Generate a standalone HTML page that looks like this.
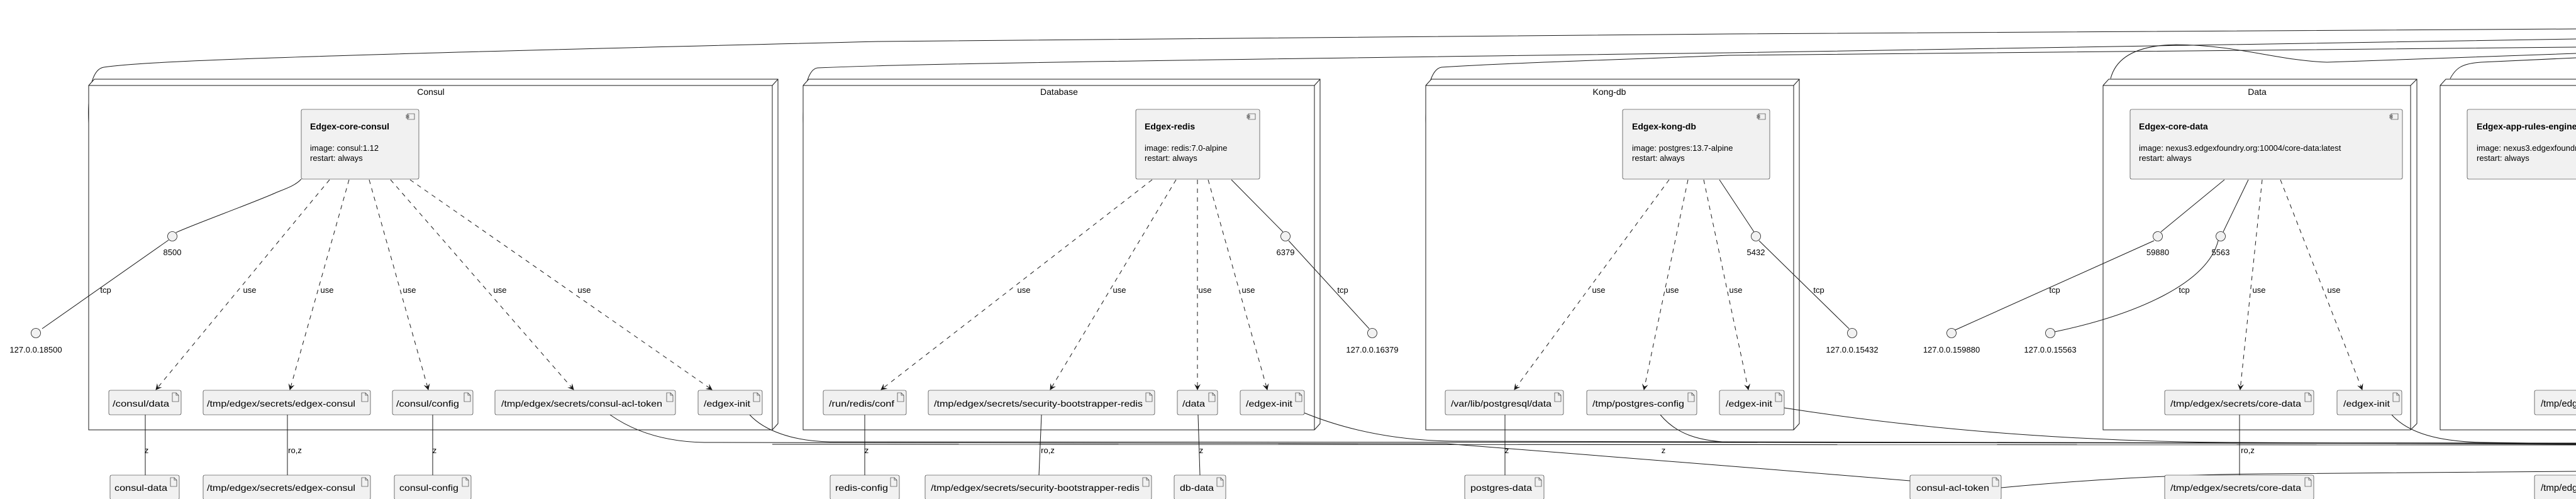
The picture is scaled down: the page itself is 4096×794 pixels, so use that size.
<!DOCTYPE html>
<html><head><meta charset="utf-8"><style>
html,body{margin:0;padding:0;background:#fff;overflow:hidden;width:4096px;height:794px}
svg{display:block}
text{font-family:"Liberation Sans",sans-serif;fill:#000}
.lbl{font-size:13px}
.art rect{fill:#F1F1F1;stroke:#181818;stroke-width:0.6}
.ic{fill:none;stroke:#181818;stroke-width:0.6}
.ln{fill:none;stroke:#181818;stroke-width:1}
.ds{fill:none;stroke:#181818;stroke-width:1;stroke-dasharray:7,7}
.fr{fill:#fff;stroke:#181818;stroke-width:1}
.cp{fill:#F1F1F1;stroke:#181818;stroke-width:0.6}
.pt{fill:#F1F1F1;stroke:#181818;stroke-width:0.8}
</style></head><body>
<svg width="4096" height="794" viewBox="0 0 4096 794" xmlns="http://www.w3.org/2000/svg">
<defs>
<marker id="ar" markerWidth="10" markerHeight="10" refX="9" refY="5" orient="auto" markerUnits="userSpaceOnUse">
<path d="M0,0 L10,5 L0,10 L4,5 Z" fill="#181818"/>
</marker>
</defs>

<!-- top long lines -->
<path class="ln" d="M141,196 C139,150 145,110 165,107 C230,98 400,90 1400,66 L2750,54 L4096,46"/>
<path class="ln" d="M1277,196 C1276,150 1283,110 1300,108 C1400,104 1500,100 2750,84 L4096,62"/>
<path class="ln" d="M2267,196 C2266,150 2274,110 2292,107 C2400,100 2600,94 2750,88 L4096,75"/>
<path class="ln" d="M3356,125 C3365,90 3400,72 3460,71 C3560,72 3620,96 3700,99 L4096,85"/>
<path class="ln" d="M3896,125 C3905,108 3915,101 3945,99 L4096,92"/>

<!-- frames -->
<g>
<path class="fr" d="M141,136 L150,126 L1237,126 L1237,674 L1228,684 L141,684 Z"/>
<path class="ln" d="M141,136 L1228,136 L1237,126 M1228,136 L1228,684"/>
<text x="685" y="151" font-size="14" text-anchor="middle">Consul</text>

<path class="fr" d="M1277,136 L1286,126 L2099,126 L2099,674 L2090,684 L1277,684 Z"/>
<path class="ln" d="M1277,136 L2090,136 L2099,126 M2090,136 L2090,684"/>
<text x="1684" y="151" font-size="14" text-anchor="middle">Database</text>

<path class="fr" d="M2267,136 L2276,126 L2861,126 L2861,674 L2852,684 L2267,684 Z"/>
<path class="ln" d="M2267,136 L2852,136 L2861,126 M2852,136 L2852,684"/>
<text x="2559" y="151" font-size="14" text-anchor="middle">Kong-db</text>

<path class="fr" d="M3344,136 L3353,126 L3843,126 L3843,674 L3833,684 L3344,684 Z"/>
<path class="ln" d="M3344,136 L3833,136 L3843,126 M3833,136 L3833,684"/>
<text x="3589" y="151" font-size="14" text-anchor="middle">Data</text>

<path class="fr" d="M3880,136 L3889,126 L4300,126 L4300,684 L3880,684 Z"/>
<path class="ln" d="M3880,136 L4300,136"/>
</g>

<!-- components -->
<g>
<rect class="cp" x="479" y="174" width="187" height="111" rx="2.5"/>
<path class="ic" d="M648,181 h11 v9 h-11 z M646,183 h4 v2 h-4 z M646,186 h4 v2 h-4 z"/>
<text x="493" y="206" font-size="14" font-weight="bold">Edgex-core-consul</text>
<text x="493" y="240" font-size="13">image: consul:1.12</text>
<text x="493" y="256" font-size="13">restart: always</text>

<rect class="cp" x="1806" y="174" width="197" height="111" rx="2.5"/>
<path class="ic" d="M1985,181 h11 v9 h-11 z M1983,183 h4 v2 h-4 z M1983,186 h4 v2 h-4 z"/>
<text x="1820" y="206" font-size="14" font-weight="bold">Edgex-redis</text>
<text x="1820" y="240" font-size="13">image: redis:7.0-alpine</text>
<text x="1820" y="256" font-size="13">restart: always</text>

<rect class="cp" x="2580" y="174" width="234" height="111" rx="2.5"/>
<path class="ic" d="M2796,181 h11 v9 h-11 z M2794,183 h4 v2 h-4 z M2794,186 h4 v2 h-4 z"/>
<text x="2595" y="206" font-size="14" font-weight="bold">Edgex-kong-db</text>
<text x="2595" y="240" font-size="13">image: postgres:13.7-alpine</text>
<text x="2595" y="256" font-size="13">restart: always</text>

<rect class="cp" x="3387" y="174" width="433" height="111" rx="2.5"/>
<path class="ic" d="M3802,181 h11 v9 h-11 z M3800,183 h4 v2 h-4 z M3800,186 h4 v2 h-4 z"/>
<text x="3401" y="206" font-size="14" font-weight="bold">Edgex-core-data</text>
<text x="3401" y="240" font-size="13">image: nexus3.edgexfoundry.org:10004/core-data:latest</text>
<text x="3401" y="256" font-size="13">restart: always</text>

<rect class="cp" x="3923" y="174" width="400" height="111" rx="2.5"/>
<text x="3938" y="206" font-size="14" font-weight="bold">Edgex-app-rules-engine</text>
<text x="3938" y="240" font-size="13">image: nexus3.edgexfoundry.org</text>
<text x="3938" y="256" font-size="13">restart: always</text>
</g>

<!-- ports and tcp links -->
<g>
<path class="ln" d="M479,285 C470,295 455,300 440,306 C410,320 300,360 280,370"/>
<path class="ln" d="M268,382 L67,523"/>
<circle class="pt" cx="274" cy="376" r="7.5"/><circle class="pt" cx="57" cy="530" r="7.5"/>
<text class="lbl" x="274" y="406" text-anchor="middle">8500</text>
<text class="lbl" x="57" y="561" text-anchor="middle">127.0.0.18500</text>
<text class="lbl" x="168" y="466" text-anchor="middle">tcp</text>

<path class="ln" d="M1958,286 L2040,369 M2049,383 L2177,523"/>
<circle class="pt" cx="2044" cy="376" r="7.5"/><circle class="pt" cx="2182" cy="530" r="7.5"/>
<text class="lbl" x="2044" y="406" text-anchor="middle">6379</text>
<text class="lbl" x="2182" y="561" text-anchor="middle">127.0.0.16379</text>
<text class="lbl" x="2135" y="466" text-anchor="middle">tcp</text>

<path class="ln" d="M2734,286 L2789,369 M2797,383 L2940,523"/>
<circle class="pt" cx="2792" cy="376" r="7.5"/><circle class="pt" cx="2945" cy="530" r="7.5"/>
<text class="lbl" x="2792" y="406" text-anchor="middle">5432</text>
<text class="lbl" x="2945" y="561" text-anchor="middle">127.0.0.15432</text>
<text class="lbl" x="2892" y="466" text-anchor="middle">tcp</text>

<path class="ln" d="M3537,286 L3436,369 M3425,383 L3109,525"/>
<path class="ln" d="M3575,286 L3535,369 M3527,383 C3510,450 3400,500 3267,528"/>
<circle class="pt" cx="3431" cy="376" r="7.5"/><circle class="pt" cx="3531" cy="376" r="7.5"/>
<circle class="pt" cx="3103" cy="530" r="7.5"/><circle class="pt" cx="3260" cy="530" r="7.5"/>
<text class="lbl" x="3431" y="406" text-anchor="middle">59880</text>
<text class="lbl" x="3531" y="406" text-anchor="middle">5563</text>
<text class="lbl" x="3103" y="561" text-anchor="middle">127.0.0.159880</text>
<text class="lbl" x="3260" y="561" text-anchor="middle">127.0.0.15563</text>
<text class="lbl" x="3267" y="466" text-anchor="middle">tcp</text>
<text class="lbl" x="3473" y="466" text-anchor="middle">tcp</text>
</g>

<!-- dashed use arrows -->
<g>
<path class="ds" marker-end="url(#ar)" d="M524,286 L248,620"/>
<path class="ds" marker-end="url(#ar)" d="M555,286 L461,620"/>
<path class="ds" marker-end="url(#ar)" d="M587,286 L681,620"/>
<path class="ds" marker-end="url(#ar)" d="M621,286 L912,620"/>
<path class="ds" marker-end="url(#ar)" d="M652,286 L1132,620"/>
<path class="ds" marker-end="url(#ar)" d="M1832,286 L1401,620"/>
<path class="ds" marker-end="url(#ar)" d="M1870,286 L1670,620"/>
<path class="ds" marker-end="url(#ar)" d="M1904,286 L1904,620"/>
<path class="ds" marker-end="url(#ar)" d="M1921,286 L2015,620"/>
<path class="ds" marker-end="url(#ar)" d="M2654,286 L2408,620"/>
<path class="ds" marker-end="url(#ar)" d="M2684,286 L2614,620"/>
<path class="ds" marker-end="url(#ar)" d="M2709,286 L2780,620"/>
<path class="ds" marker-end="url(#ar)" d="M3597,286 L3562,620"/>
<path class="ds" marker-end="url(#ar)" d="M3626,286 L3756,620"/>
<g class="lbl" text-anchor="middle">
<text x="397" y="466">use</text><text x="520" y="466">use</text><text x="651" y="466">use</text>
<text x="795" y="466">use</text><text x="929" y="466">use</text>
<text x="1628" y="466">use</text><text x="1780" y="466">use</text><text x="1916" y="466">use</text><text x="1985" y="466">use</text>
<text x="2542" y="466">use</text><text x="2659" y="466">use</text><text x="2760" y="466">use</text>
<text x="3592" y="466">use</text><text x="3711" y="466">use</text>
</g>
</g>

<!-- bottom links -->
<g>
<path class="ln" d="M231,660 L231,756 M457,660 L457,756 M688,660 L688,756 M1375,660 L1375,756 M1656,660 L1652,756 M1905,660 L1908,756 M2393,660 L2393,756 M3561,660 L3561,756"/>
<g class="lbl" text-anchor="middle">
<text x="233" y="721">z</text><text x="469" y="721">ro,z</text><text x="691" y="721">z</text>
<text x="1378" y="721">z</text><text x="1666" y="721">ro,z</text><text x="1910" y="721">z</text>
<text x="2396" y="721">z</text><text x="2645" y="721">z</text><text x="3574" y="721">ro,z</text>
</g>
<path class="ln" d="M970,660 C1010,688 1060,703 1120,704 L2300,706 C2500,722 2800,745 3037,765"/>
<path class="ln" d="M3182,776 C3300,765 3450,755 3600,754 L4096,750"/>
<path class="ln" d="M1192,660 C1215,685 1260,702 1320,703 L4096,705"/>
<path class="ln" d="M2074,657 C2150,688 2230,701 2310,702 L4096,706"/>
<path class="ln" d="M2640,660 C2665,690 2700,703 2760,704 L4096,706"/>
<path class="ln" d="M2837,649 C3100,690 3350,703 3548,704 L4096,707"/>
<path class="ln" d="M3803,660 C3830,690 3880,703 3950,704 L4096,706"/>
<path class="ln" d="M1228,707 L4096,708"/>
</g>

<!-- artifacts -->
<g class="art" font-size="14">
<g><rect x="173" y="621" width="115" height="39" rx="2.5"/><path class="ic" d="M274,625 h6 l4,4 v10 h-10 z M280,625 v4 h4"/><text x="179" y="647" textLength="90" lengthAdjust="spacingAndGlyphs">/consul/data</text></g>
<g><rect x="323" y="621" width="266" height="39" rx="2.5"/><path class="ic" d="M575,625 h6 l4,4 v10 h-10 z M581,625 v4 h4"/><text x="329" y="647" textLength="236" lengthAdjust="spacingAndGlyphs">/tmp/edgex/secrets/edgex-consul</text></g>
<g><rect x="624" y="621" width="128" height="39" rx="2.5"/><path class="ic" d="M738,625 h6 l4,4 v10 h-10 z M744,625 v4 h4"/><text x="630" y="647" textLength="100" lengthAdjust="spacingAndGlyphs">/consul/config</text></g>
<g><rect x="787" y="621" width="287" height="39" rx="2.5"/><path class="ic" d="M1060,625 h6 l4,4 v10 h-10 z M1066,625 v4 h4"/><text x="797" y="647" textLength="256" lengthAdjust="spacingAndGlyphs">/tmp/edgex/secrets/consul-acl-token</text></g>
<g><rect x="1110" y="621" width="102" height="39" rx="2.5"/><path class="ic" d="M1198,625 h6 l4,4 v10 h-10 z M1204,625 v4 h4"/><text x="1119" y="647" textLength="74" lengthAdjust="spacingAndGlyphs">/edgex-init</text></g>
<g><rect x="1309" y="621" width="132" height="39" rx="2.5"/><path class="ic" d="M1427,625 h6 l4,4 v10 h-10 z M1433,625 v4 h4"/><text x="1318" y="647" textLength="104" lengthAdjust="spacingAndGlyphs">/run/redis/conf</text></g>
<g><rect x="1476" y="621" width="360" height="39" rx="2.5"/><path class="ic" d="M1822,625 h6 l4,4 v10 h-10 z M1828,625 v4 h4"/><text x="1485" y="647" textLength="332" lengthAdjust="spacingAndGlyphs">/tmp/edgex/secrets/security-bootstrapper-redis</text></g>
<g><rect x="1872" y="621" width="64" height="39" rx="2.5"/><path class="ic" d="M1922,625 h6 l4,4 v10 h-10 z M1928,625 v4 h4"/><text x="1880" y="647" textLength="36" lengthAdjust="spacingAndGlyphs">/data</text></g>
<g><rect x="1972" y="621" width="102" height="39" rx="2.5"/><path class="ic" d="M2060,625 h6 l4,4 v10 h-10 z M2066,625 v4 h4"/><text x="1981" y="647" textLength="74" lengthAdjust="spacingAndGlyphs">/edgex-init</text></g>
<g><rect x="2298" y="621" width="188" height="39" rx="2.5"/><path class="ic" d="M2472,625 h6 l4,4 v10 h-10 z M2478,625 v4 h4"/><text x="2307" y="647" textLength="160" lengthAdjust="spacingAndGlyphs">/var/lib/postgresql/data</text></g>
<g><rect x="2523" y="621" width="175" height="39" rx="2.5"/><path class="ic" d="M2684,625 h6 l4,4 v10 h-10 z M2690,625 v4 h4"/><text x="2532" y="647" textLength="146" lengthAdjust="spacingAndGlyphs">/tmp/postgres-config</text></g>
<g><rect x="2734" y="621" width="103" height="39" rx="2.5"/><path class="ic" d="M2823,625 h6 l4,4 v10 h-10 z M2829,625 v4 h4"/><text x="2744" y="647" textLength="74" lengthAdjust="spacingAndGlyphs">/edgex-init</text></g>
<g><rect x="3442" y="621" width="237" height="39" rx="2.5"/><path class="ic" d="M3665,625 h6 l4,4 v10 h-10 z M3671,625 v4 h4"/><text x="3451" y="647" textLength="208" lengthAdjust="spacingAndGlyphs">/tmp/edgex/secrets/core-data</text></g>
<g><rect x="3716" y="621" width="103" height="39" rx="2.5"/><path class="ic" d="M3805,625 h6 l4,4 v10 h-10 z M3811,625 v4 h4"/><text x="3726" y="647" textLength="74" lengthAdjust="spacingAndGlyphs">/edgex-init</text></g>
<g><rect x="4030" y="621" width="300" height="39" rx="2.5"/><text x="4040" y="647" font-size="15">/tmp/edgex/secrets/app-rules-engine</text></g>

<g><rect x="175" y="756" width="110" height="39" rx="2.5"/><path class="ic" d="M271,760 h6 l4,4 v10 h-10 z M277,760 v4 h4"/><text x="182" y="781" textLength="84" lengthAdjust="spacingAndGlyphs">consul-data</text></g>
<g><rect x="323" y="756" width="266" height="39" rx="2.5"/><path class="ic" d="M575,760 h6 l4,4 v10 h-10 z M581,760 v4 h4"/><text x="329" y="781" textLength="236" lengthAdjust="spacingAndGlyphs">/tmp/edgex/secrets/edgex-consul</text></g>
<g><rect x="627" y="756" width="122" height="39" rx="2.5"/><path class="ic" d="M735,760 h6 l4,4 v10 h-10 z M741,760 v4 h4"/><text x="635" y="781" textLength="94" lengthAdjust="spacingAndGlyphs">consul-config</text></g>
<g><rect x="1320" y="756" width="110" height="39" rx="2.5"/><path class="ic" d="M1416,760 h6 l4,4 v10 h-10 z M1422,760 v4 h4"/><text x="1328" y="781" textLength="84" lengthAdjust="spacingAndGlyphs">redis-config</text></g>
<g><rect x="1471" y="756" width="360" height="39" rx="2.5"/><path class="ic" d="M1817,760 h6 l4,4 v10 h-10 z M1823,760 v4 h4"/><text x="1480" y="781" textLength="332" lengthAdjust="spacingAndGlyphs">/tmp/edgex/secrets/security-bootstrapper-redis</text></g>
<g><rect x="1867" y="756" width="82" height="39" rx="2.5"/><path class="ic" d="M1935,760 h6 l4,4 v10 h-10 z M1941,760 v4 h4"/><text x="1876" y="781" textLength="54" lengthAdjust="spacingAndGlyphs">db-data</text></g>
<g><rect x="2329" y="756" width="126" height="39" rx="2.5"/><path class="ic" d="M2441,760 h6 l4,4 v10 h-10 z M2447,760 v4 h4"/><text x="2338" y="781" textLength="98" lengthAdjust="spacingAndGlyphs">postgres-data</text></g>
<g><rect x="3037" y="756" width="145" height="39" rx="2.5"/><path class="ic" d="M3168,760 h6 l4,4 v10 h-10 z M3174,760 v4 h4"/><text x="3047" y="781" textLength="116" lengthAdjust="spacingAndGlyphs">consul-acl-token</text></g>
<g><rect x="3442" y="756" width="237" height="39" rx="2.5"/><path class="ic" d="M3665,760 h6 l4,4 v10 h-10 z M3671,760 v4 h4"/><text x="3451" y="781" textLength="208" lengthAdjust="spacingAndGlyphs">/tmp/edgex/secrets/core-data</text></g>
<g><rect x="4030" y="756" width="300" height="39" rx="2.5"/><text x="4040" y="781" font-size="15">/tmp/edgex/secrets/app-rules-engine</text></g>
</g>
</svg>
</body></html>
